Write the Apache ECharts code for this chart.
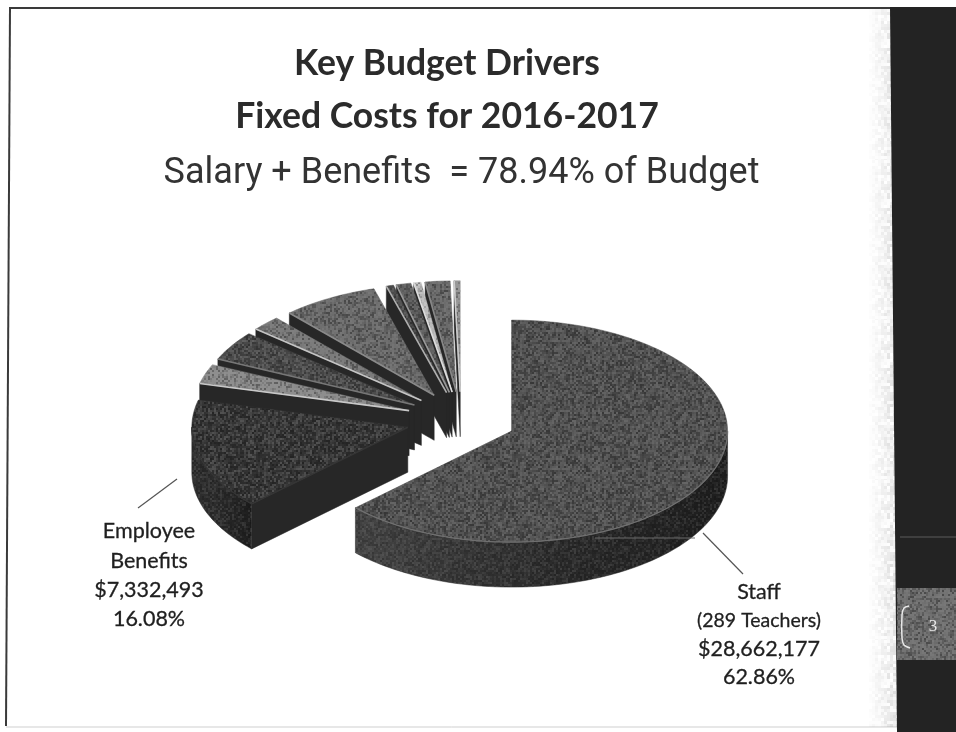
<!DOCTYPE html>
<html>
<head>
<meta charset="utf-8">
<style>html,body{margin:0;padding:0;background:#fff}#chart{width:956px;height:732px}</style>
<script src="https://cdn.jsdelivr.net/npm/echarts@6/dist/echarts.min.js"></script>
</head>
<body>
<div id="chart"></div>
<script>
// Budget shares in percent, clockwise from twelve o'clock.
const sliceNames = ['Staff', 'Employee Benefits', 'Other A', 'Other B', 'Other C', 'Other D', 'Other E', 'Other F', 'Other G', 'Other H', 'Other I'];
const sliceShares = [62.86, 16.08, 2.86, 4.3, 2.2, 7.2, 0.55, 1.1, 0.55, 1.85, 0.45];
const topShades = ['#525252', '#353535', '#8f8f8f', '#4c4c4c', '#7a7a7a', '#6c6c6c', '#4a4a4a', '#5c5c5c', '#c4c4c4', '#6a6a6a', '#9a9a9a'];
const edgeShades = ['#707070', '#353535', '#c8c8c8', '#777777', '#c4c4c4', '#8a8a8a', '#b0b0b0', '#999999', '#dddddd', '#888888', '#cccccc'];

const titleLines = 'Key Budget Drivers\nFixed Costs for 2016-2017';
const subtitleText = 'Salary + Benefits  = 78.94% of Budget';
const staffLabel = ['Staff', '(289 Teachers)', '$28,662,177', '62.86%'];
const benefitsLabel = ['Employee', 'Benefits', '$7,332,493', '16.08%'];
const pageNumber = '3';

// Projection of the tilted, exploded pie.
const CX = 461, CY = 420, RX = 216, RY = 111, DEPTH = 45, EXPLODE = 55;
const rad = d => d * Math.PI / 180;
const rim = (c, t) => [c[0] + RX * Math.sin(rad(t)), c[1] - RY * Math.cos(rad(t))];
const down = p => [p[0], p[1] + DEPTH];

function arcPoints(c, from, to) {
  const pts = [];
  const n = Math.max(2, Math.ceil((to - from) / 1.5));
  for (let i = 0; i <= n; i++) pts.push(rim(c, from + (to - from) * i / n));
  return pts;
}

const speckle = (x, y) => {
  const h = Math.sin(x * 12.9898 + y * 78.233) * 43758.5453;
  return h - Math.floor(h);
};

// Tiled stipple used as a halftone texture on the printed surfaces.
function stippleTile(light, dark, alpha) {
  const size = 128, cell = 2;
  const cv = document.createElement('canvas');
  cv.width = cv.height = size;
  const ctx = cv.getContext('2d');
  for (let y = 0; y < size; y += cell) {
    for (let x = 0; x < size; x += cell) {
      const v = speckle(x, y);
      ctx.fillStyle = (v > 0.5 ? light : dark) + (alpha * Math.abs(v - 0.5) * 2) + ')';
      ctx.fillRect(x, y, cell, cell);
    }
  }
  return { image: cv, repeat: 'repeat' };
}
const inkGrain = stippleTile('rgba(140,140,140,', 'rgba(0,0,0,', 0.34);

// Paper mottling that fades in toward the panel edge.
function edgeMottle(from, to) {
  const h = 160, cell = 3;
  const cv = document.createElement('canvas');
  cv.width = 956; cv.height = h;
  const ctx = cv.getContext('2d');
  for (let y = 0; y < h; y += cell) {
    for (let x = from; x < to; x += cell) {
      const ramp = (x - from) / (to - from);
      ctx.fillStyle = 'rgba(150,150,150,' + (0.4 * ramp * speckle(x, y)) + ')';
      ctx.fillRect(x, y, cell, cell);
    }
  }
  return { image: cv, repeat: 'repeat' };
}

let running = 0;
const sliceRows = sliceShares.map((share, i) => {
  const row = [running, running + share, i];
  running += share;
  return row;
});
// Painted from the back of the pie forward.
const paintOrder = sliceRows.slice().reverse();

function renderSlice(params, api) {
  const t0 = api.value(0) * 3.6, t1 = api.value(1) * 3.6, idx = api.value(2);
  const mid = (t0 + t1) / 2;
  const apex = [CX + EXPLODE * Math.sin(rad(mid)), CY - EXPLODE * (RY / RX) * Math.cos(rad(mid))];
  const arc = arcPoints(apex, t0, t1);
  const children = [];

  // Cut face below the leading edge, showing only where it turns toward the viewer.
  if (Math.sin(rad(t0)) < 0) {
    const corner = rim(apex, t0);
    children.push({
      type: 'polygon',
      shape: { points: [apex, corner, down(corner), down(apex)] },
      style: { fill: '#272727', stroke: '#272727', lineWidth: 0.5 }
    });
  }
  // Outer wall along the front half of the rim.
  const w0 = Math.max(t0, 90), w1 = Math.min(t1, 270);
  if (w1 > w0) {
    const wall = arcPoints(apex, w0, w1);
    const lo = Math.min.apply(null, wall.map(p => p[0]));
    const hi = Math.max.apply(null, wall.map(p => p[0]));
    const wallShape = { points: wall.concat(wall.slice().reverse().map(down)) };
    children.push({
      type: 'polygon',
      shape: wallShape,
      style: {
        fill: new echarts.graphic.LinearGradient(lo, 0, hi, 0, [
          { offset: 0, color: idx === 0 ? '#454545' : '#2f2f2f' },
          { offset: 0.55, color: '#2b2b2b' },
          { offset: 1, color: '#1e1e1e' }
        ], true),
        stroke: '#2a2a2a', lineWidth: 0.5
      }
    });
    children.push({
      type: 'polygon',
      shape: wallShape,
      style: { fill: inkGrain, opacity: 0.6 }
    });
  }
  // Top surface with its stipple.
  const topShape = { points: [apex].concat(arc) };
  children.push({
    type: 'polygon',
    shape: topShape,
    style: { fill: topShades[idx], stroke: topShades[idx], lineWidth: 0.5 }
  });
  children.push({
    type: 'polygon',
    shape: topShape,
    style: { fill: inkGrain }
  });
  // Bevel highlight on the leading edge and the front rim.
  if (Math.sin(rad(t0)) < 0) {
    children.push({
      type: 'polyline',
      shape: { points: [apex, rim(apex, t0)] },
      style: { fill: 'none', stroke: edgeShades[idx], lineWidth: 1.6 }
    });
  }
  if (w1 > w0) {
    children.push({
      type: 'polyline',
      shape: { points: arcPoints(apex, w0, w1) },
      style: { fill: 'none', stroke: edgeShades[idx], lineWidth: 1.2 }
    });
  }
  return { type: 'group', children };
}

const chart = echarts.init(document.getElementById('chart'), null, { renderer: 'canvas' });

const noteText = (lines, x, y0, steps, sizes) => lines.map((s, i) => ({
  type: 'text', z: 20,
  style: {
    x, y: y0 + steps[i], text: s, align: 'center', verticalAlign: 'middle',
    font: sizes[i] + 'px Lato', fill: '#1f1f1f', stroke: '#1f1f1f', lineWidth: 0.3
  }
}));

chart.setOption({
  animation: false,
  backgroundColor: '#ffffff',
  title: [
    {
      text: titleLines, left: 447, top: 37, padding: 0, textAlign: 'center',
      textStyle: { fontFamily: 'Lato', fontWeight: 'bold', fontSize: 35.5, lineHeight: 53, color: '#2b2b2b' }
    },
    {
      text: subtitleText, left: 461.5, top: 156, padding: 0, textAlign: 'center',
      textStyle: { fontFamily: 'Roboto', fontWeight: 400, fontSize: 36, color: '#333333' }
    }
  ],
  graphic: [
    // Slide frame and the side panel beside it.
    { type: 'line', z: 1, shape: { x1: 9, y1: 8, x2: 890, y2: 8 }, style: { stroke: '#3a3a3a', lineWidth: 2 } },
    { type: 'line', z: 1, shape: { x1: 10, y1: 8, x2: 6, y2: 726 }, style: { stroke: '#3a3a3a', lineWidth: 2 } },
    { type: 'line', z: 1, shape: { x1: 6, y1: 727, x2: 897, y2: 727 }, style: { stroke: '#cfcfcf', lineWidth: 1 } },
    { type: 'rect', z: 1, shape: { x: 866, y: 9, width: 31, height: 718 }, style: { fill: edgeMottle(866, 897) } },
    { type: 'polygon', z: 2, shape: { points: [[890, 7], [956, 7], [956, 732], [897, 732]] }, style: { fill: '#232323' } },
    { type: 'line', z: 3, shape: { x1: 900, y1: 537, x2: 956, y2: 537 }, style: { stroke: '#5c5c5c', lineWidth: 1 } },
    { type: 'rect', z: 3, shape: { x: 897, y: 588, width: 59, height: 72 }, style: { fill: '#707070' } },
    { type: 'rect', z: 3, shape: { x: 897, y: 588, width: 59, height: 72 }, style: { fill: inkGrain } },
    { type: 'polyline', z: 4, shape: { points: [[909, 606], [904, 608], [902, 615], [902, 638], [904, 645], [910, 648]], smooth: 0.3 },
      style: { fill: 'none', stroke: '#e8e8e8', lineWidth: 1.5 } },
    { type: 'text', z: 4, style: { x: 933, y: 627, text: pageNumber, align: 'center', verticalAlign: 'middle', font: '17px "Liberation Serif"', fill: '#e8e8e8' } },
    // Leader lines from the labels to their slices.
    { type: 'line', z: 20, shape: { x1: 177, y1: 479, x2: 138, y2: 508 }, style: { stroke: '#555555', lineWidth: 1.2 } },
    { type: 'line', z: 20, shape: { x1: 703, y1: 533, x2: 743, y2: 574 }, style: { stroke: '#555555', lineWidth: 1.2 } },
    // Faint glint across the front wall.
    { type: 'line', z: 15, shape: { x1: 595, y1: 538, x2: 695, y2: 538 }, style: { stroke: '#6a6a6a', lineWidth: 1 } }
  ]
    .concat(noteText(benefitsLabel, 149, 531, [0, 30, 59, 88], [21.5, 21.5, 21.5, 21.5]))
    .concat(noteText(staffLabel, 759, 592, [0, 29, 57, 85], [21.5, 19.5, 21.5, 21.5])),
  series: [{
    type: 'custom',
    name: 'Fixed costs',
    coordinateSystem: 'none',
    renderItem: renderSlice,
    dimensions: ['start', 'end', 'index'],
    data: paintOrder,
    z: 10,
    silent: true
  }]
});
</script>
</body>
</html>
